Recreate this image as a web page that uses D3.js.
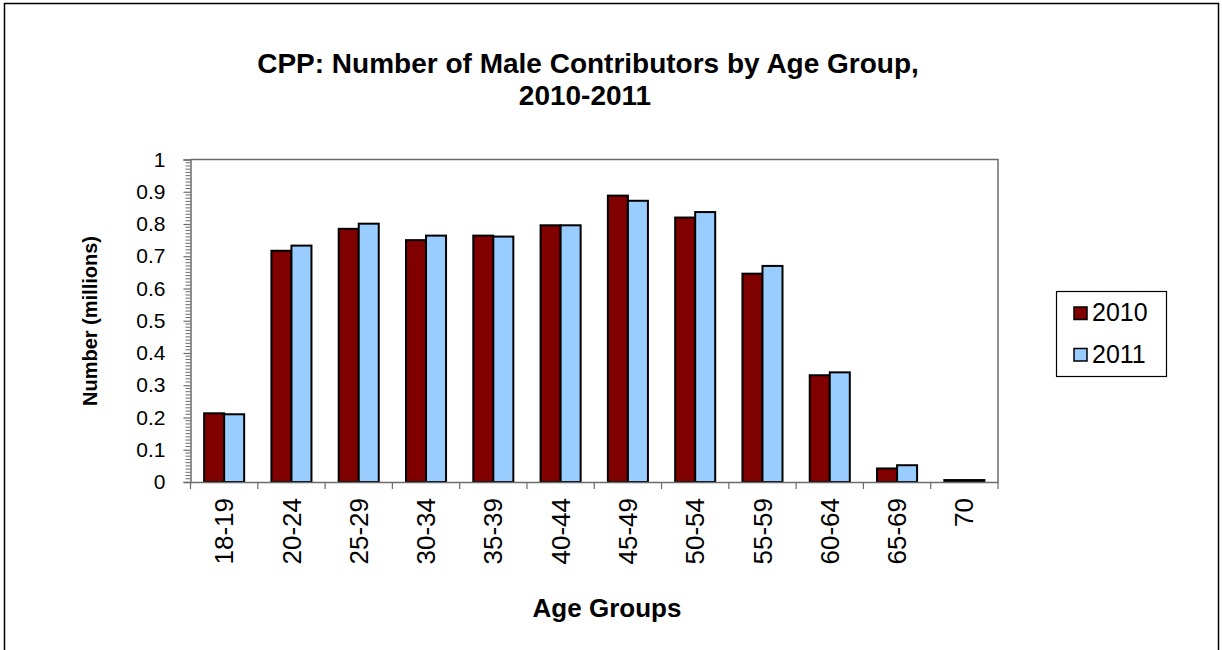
<!DOCTYPE html>
<html>
<head>
<meta charset="utf-8">
<script src="https://cdn.jsdelivr.net/npm/d3@7"></script>
<style>
  html, body { margin: 0; padding: 0; background: #fff; }
  svg { display: block; font-family: "Liberation Sans", Arial, sans-serif; }
</style>
</head>
<body>
<svg id="chart" width="1222" height="650"></svg>
<script>
const categories = ["18-19","20-24","25-29","30-34","35-39","40-44","45-49","50-54","55-59","60-64","65-69","70"];
const series = ["2010","2011"];
const values2010 = [0.213,0.717,0.785,0.750,0.764,0.796,0.888,0.820,0.646,0.331,0.042,0.006];
const values2011 = [0.210,0.733,0.801,0.764,0.761,0.796,0.872,0.837,0.670,0.340,0.052,0.006];
const yTicks = [0,0.1,0.2,0.3,0.4,0.5,0.6,0.7,0.8,0.9,1];
const yTickLabels = ["0","0.1","0.2","0.3","0.4","0.5","0.6","0.7","0.8","0.9","1"];
const colors = {"2010":"#800000","2011":"#99CCFF"};
const titleLines = ["CPP: Number of Male Contributors by Age Group,","2010-2011"];
const yTitle = "Number (millions)";
const xTitle = "Age Groups";

const svg = d3.select("#chart");
// outer frame
svg.append("rect").attr("x",4.5).attr("y",3.5).attr("width",1214).attr("height",700)
  .attr("fill","none").attr("stroke","#000").attr("stroke-width",1.5);

const plot = {left:190.5, right:998, top:159.5, bottom:482};
const x0 = d3.scaleBand().domain(categories).range([plot.left, plot.right]).padding(0);
const x1 = d3.scaleBand().domain(series).range([0, x0.bandwidth()]).paddingInner(0).paddingOuter(0.68);
const y = d3.scaleLinear().domain([0,1]).range([plot.bottom, plot.top]);

// plot border (top & right)
svg.append("path")
  .attr("d", `M${plot.left},${plot.top}H${plot.right}V${plot.bottom}`)
  .attr("fill","none").attr("stroke","#6b6b6b").attr("stroke-width",1.5);

// bars
const data = categories.map((c,i)=>({cat:c, vals:[{s:"2010",v:values2010[i]},{s:"2011",v:values2011[i]}]}));
const g = svg.append("g");
g.selectAll("g.grp").data(data).join("g").attr("class","grp")
  .attr("transform", d=>`translate(${x0(d.cat)},0)`)
  .selectAll("rect").data(d=>d.vals).join("rect")
  .attr("x", d=>x1(d.s))
  .attr("y", d=>y(d.v))
  .attr("width", x1.bandwidth())
  .attr("height", d=>y(0)-y(d.v))
  .attr("fill", d=>colors[d.s])
  .attr("stroke","#000").attr("stroke-width",2);

// y axis
const yAxis = d3.axisLeft(y).tickValues(yTicks).tickFormat((d,i)=>yTickLabels[i]).tickSize(7).tickPadding(18);
const ya = svg.append("g").attr("transform",`translate(${plot.left},0)`).call(yAxis);
ya.select(".domain").attr("stroke","#6b6b6b").attr("stroke-width",1.5);
ya.selectAll(".tick line").attr("stroke","#6b6b6b").attr("stroke-width",1.2);
ya.selectAll(".tick text").attr("font-size",21).attr("fill","#000").attr("font-family","Liberation Sans, Arial, sans-serif");
// minor ticks
const minor = d3.range(0,101).map(i=>i/100).filter(v=>Math.round(v*100)%10!==0);
svg.append("g").selectAll("line").data(minor).join("line")
  .attr("x1",plot.left-5).attr("x2",plot.left)
  .attr("y1",d=>y(d)).attr("y2",d=>y(d))
  .attr("stroke","#6b6b6b").attr("stroke-width",1);

// x axis
const xAxis = d3.axisBottom(x0).tickSize(0).tickFormat(d=>d);
const xa = svg.append("g").attr("transform",`translate(0,${plot.bottom})`).call(xAxis);
xa.select(".domain").attr("stroke","#6b6b6b").attr("stroke-width",1.5);
xa.selectAll(".tick line").remove();
xa.selectAll(".tick text")
  .attr("font-size",26).attr("fill","#000").attr("font-family","Liberation Sans, Arial, sans-serif")
  .attr("transform","rotate(-90)")
  .attr("text-anchor","end")
  .attr("x",-16).attr("y",0).attr("dy","0.35em");
// category boundary ticks
const bounds = categories.map(c=>x0(c)).concat([plot.right]);
svg.append("g").selectAll("line").data(bounds).join("line")
  .attr("x1",d=>d).attr("x2",d=>d)
  .attr("y1",plot.bottom).attr("y2",plot.bottom+7)
  .attr("stroke","#6b6b6b").attr("stroke-width",1.2);

// titles
svg.append("text").attr("x",588).attr("y",73).attr("text-anchor","middle")
  .attr("font-size",28).attr("font-weight","bold").text(titleLines[0]);
svg.append("text").attr("x",585).attr("y",105).attr("text-anchor","middle")
  .attr("font-size",28).attr("font-weight","bold").text(titleLines[1]);
svg.append("text").attr("transform","translate(97,321) rotate(-90)").attr("text-anchor","middle")
  .attr("font-size",20).attr("font-weight","bold").text(yTitle);
svg.append("text").attr("x",607).attr("y",617).attr("text-anchor","middle")
  .attr("font-size",26).attr("font-weight","bold").text(xTitle);

// legend
const lg = svg.append("g");
lg.append("rect").attr("x",1056.5).attr("y",291.5).attr("width",110).attr("height",85)
  .attr("fill","#fff").attr("stroke","#000").attr("stroke-width",1.2);
series.forEach((s,i)=>{
  const yy = 307 + i*41.5;
  lg.append("rect").attr("x",1074).attr("y",yy).attr("width",13).attr("height",12.5)
    .attr("fill",colors[s]).attr("stroke","#000").attr("stroke-width",1.5);
  lg.append("text").attr("x",1092).attr("y",yy+14).attr("font-size",25).text(s);
});
</script>
</body>
</html>
